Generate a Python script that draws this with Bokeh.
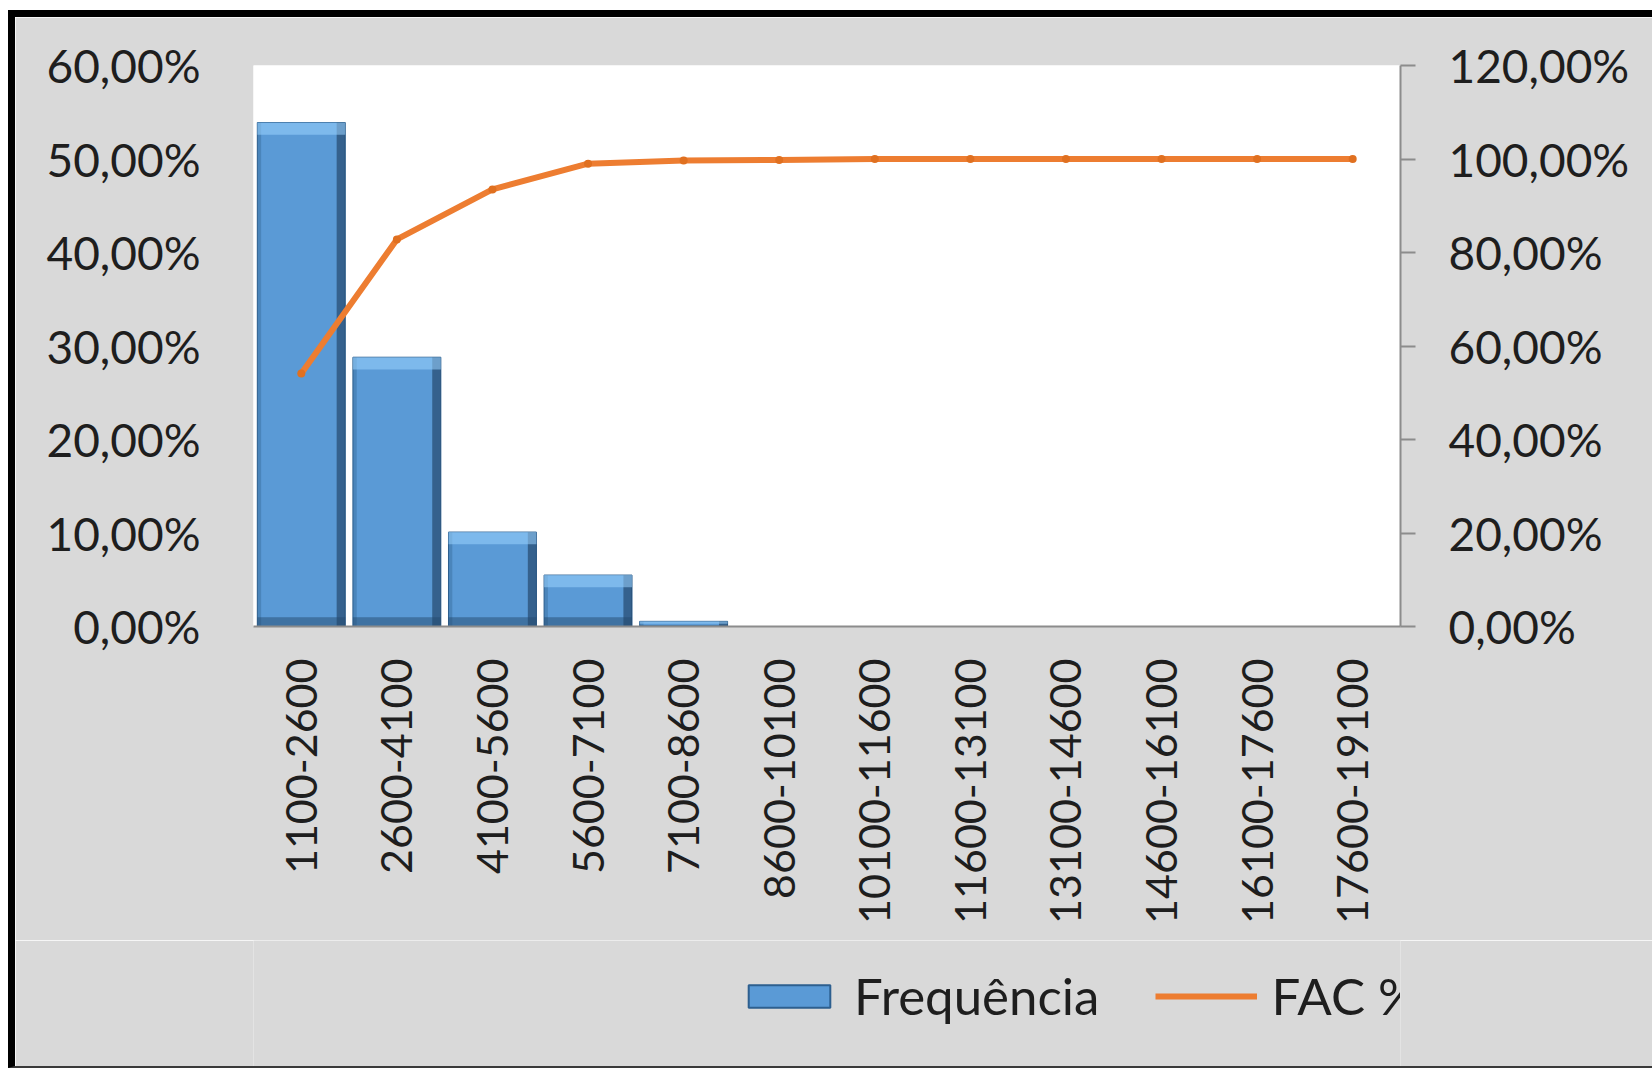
import math
from bokeh.plotting import figure
from bokeh.layouts import column
from bokeh.models import (FactorRange, Range1d, LinearAxis, FixedTicker, Legend, LegendItem,
                          ColumnDataSource)
from bokeh.transform import dodge
from bokeh.embed import file_html
from bokeh.resources import INLINE

categories = ["1100-2600", "2600-4100", "4100-5600", "5600-7100", "7100-8600", "8600-10100",
              "10100-11600", "11600-13100", "13100-14600", "14600-16100", "16100-17600", "17600-19100"]
frequencia = [53.9, 28.8, 10.1, 5.5, 0.55, 0, 0, 0, 0, 0, 0, 0]
fac = [54.1, 82.8, 93.5, 99.0, 99.7, 99.8, 100, 100, 100, 100, 100, 100]
left_ticks = [0, 10, 20, 30, 40, 50, 60]
left_labels = ["0,00%", "10,00%", "20,00%", "30,00%", "40,00%", "50,00%", "60,00%"]
right_ticks = [0, 20, 40, 60, 80, 100, 120]
right_labels = ["0,00%", "20,00%", "40,00%", "60,00%", "80,00%", "100,00%", "120,00%"]
legend_labels = ["Frequência", "FAC %"]

FONT = "Lato"
FS_Y = "46px"
FS_X = "43px"
FS_L = "51px"
TXT = "#1e1e1e"
BG = "#d9d9d9"
BAR = "#5a9ad6"
LINE = "#ed7d31"

p = figure(width=1644, height=930, x_range=FactorRange(*categories, range_padding=0),
           y_range=Range1d(0, 60), output_backend="svg", toolbar_location=None,
           min_border_left=238, min_border_right=259, min_border_top=48, min_border_bottom=321)
p.styles = {"border-left": "7px solid #000", "border-top": "7px solid #000",
            "margin-left": "8px", "margin-top": "10px"}
p.background_fill_color = "white"
p.border_fill_color = BG
p.outline_line_color = None
p.xgrid.visible = False
p.ygrid.visible = False
p.extra_y_ranges = {"fac": Range1d(0, 120)}

# left axis
ya = p.yaxis[0]
ya.ticker = FixedTicker(ticks=left_ticks)
ya.major_label_overrides = {t: l for t, l in zip(left_ticks, left_labels)}
ya.axis_line_color = None
ya.major_tick_line_color = None
ya.minor_tick_line_color = None
ya.major_label_standoff = 47
ya.major_label_text_font = FONT
ya.major_label_text_font_size = FS_Y
ya.major_label_text_color = TXT

# right axis
ra = LinearAxis(y_range_name="fac", ticker=FixedTicker(ticks=right_ticks))
ra.major_label_overrides = {t: l for t, l in zip(right_ticks, right_labels)}
ra.axis_line_color = "#8c8c8c"
ra.axis_line_width = 2
ra.major_tick_line_color = "#8c8c8c"
ra.major_tick_line_width = 2
ra.major_tick_in = 0
ra.major_tick_out = 15
ra.minor_tick_line_color = None
ra.major_label_standoff = 33
ra.major_label_text_font = FONT
ra.major_label_text_font_size = FS_Y
ra.major_label_text_color = TXT
p.add_layout(ra, "right")

# bottom axis
xa = p.xaxis[0]
xa.axis_line_color = "#8c8c8c"
xa.axis_line_width = 2
xa.major_tick_line_color = None
xa.minor_tick_line_color = None
xa.major_label_orientation = math.pi / 2
xa.major_label_standoff = 26
xa.major_label_text_font = FONT
xa.major_label_text_font_size = FS_X
xa.major_label_text_color = TXT

# bars with bevel look
top_hl = [f - min(1.3, f * 0.45) for f in frequencia]
bot_dk = [min(1.0, f * 0.3) for f in frequencia]
src = ColumnDataSource(dict(cat=categories, freq=frequencia, fac=fac, hl=top_hl, bd=bot_dk))
p.vbar(x="cat", top="freq", width=0.92, source=src, fill_color=BAR,
       line_color="#2d5f8f", line_width=1)
p.vbar(x=dodge("cat", 0.415, range=p.x_range), top="freq", width=0.09, source=src,
       fill_color="#1c3c5c", fill_alpha=0.6, line_color=None)
p.vbar(x=dodge("cat", -0.44, range=p.x_range), top="freq", width=0.04, source=src,
       fill_color="#2f5f8a", fill_alpha=0.35, line_color=None)
p.vbar(x="cat", bottom="hl", top="freq", width=0.92, source=src,
       fill_color="#9ad4ff", fill_alpha=0.55, line_color=None)
p.vbar(x="cat", bottom=0, top="bd", width=0.92, source=src,
       fill_color="#24496e", fill_alpha=0.5, line_color=None)

# cumulative line
p.line(x="cat", y="fac", source=src, y_range_name="fac", line_color=LINE, line_width=6)
p.scatter(x="cat", y="fac", source=src, y_range_name="fac", size=8, fill_color="#e07020",
          line_color=None)

# legend strip (separate figure directly below, same width)
lg = figure(width=1644, height=128, x_range=Range1d(0, 1), y_range=Range1d(0, 1),
            x_axis_type=None, y_axis_type=None, output_backend="svg", toolbar_location=None,
            min_border=0)
lg.styles = {"border-left": "7px solid #000", "border-bottom": "2px solid #3a3a3a",
             "margin-left": "8px"}
lg.background_fill_color = BG
lg.border_fill_color = BG
lg.outline_line_color = None
lg.xgrid.visible = False
lg.ygrid.visible = False
# legend-only renderers: their single point lies outside the visible range
swatch = ColumnDataSource(dict(x=[-10, -9], y=[-10, -10]))
r_bar = lg.vbar(x="x", top="y", width=0.5, source=swatch, fill_color=BAR,
                line_color="#2d5f8f", line_width=2)
r_line = lg.line(x="x", y="y", source=swatch, line_color=LINE, line_width=6)

legend = Legend(items=[LegendItem(label=legend_labels[0], renderers=[r_bar]),
                       LegendItem(label=legend_labels[1], renderers=[r_line])],
                orientation="horizontal", location=(485, 42))
legend.background_fill_alpha = 0
legend.border_line_color = None
legend.glyph_width = 102
legend.glyph_height = 28
legend.label_text_font = FONT
legend.label_text_font_size = FS_L
legend.label_text_color = TXT
legend.spacing = 56
legend.padding = 0
legend.margin = 0
legend.label_standoff = 14
lg.add_layout(legend, "center")

layout = column(p, lg, spacing=0)
open("out.html", "w").write(file_html(layout, INLINE))
